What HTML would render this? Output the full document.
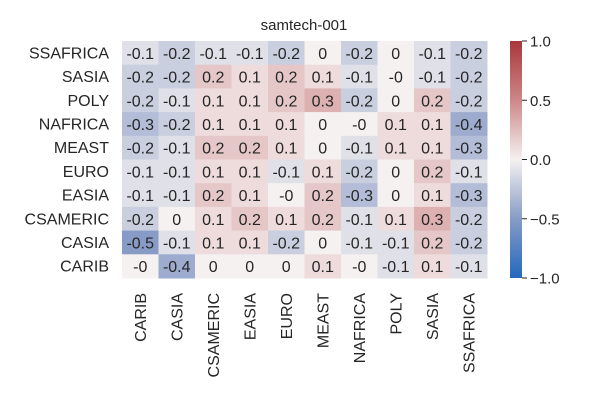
<!DOCTYPE html>
<html><head><meta charset="utf-8"><style>
body{margin:0;background:#fff;}
svg{display:block;font-family:"Liberation Sans","DejaVu Sans",sans-serif;}
</style></head><body>
<svg id="chart" width="600" height="400">
<defs><linearGradient id="cb" x1="0" y1="1" x2="0" y2="0">
<stop offset="0" stop-color="rgb(35,105,189)"/><stop offset="0.25" stop-color="rgb(135,155,198)"/>
<stop offset="0.5" stop-color="rgb(245,241,240)"/><stop offset="0.75" stop-color="rgb(205,135,137)"/>
<stop offset="1" stop-color="rgb(169,55,59)"/></linearGradient></defs>
<text x="304" y="30" font-size="15" text-anchor="middle" fill="#262626">samtech-001</text>
<g id="cells"></g>
<rect x="510" y="41" width="12" height="237" fill="url(#cb)"/>
<g id="cbticks"></g>
</svg>
<script>
const rowLabels=["SSAFRICA","SASIA","POLY","NAFRICA","MEAST","EURO","EASIA","CSAMERIC","CASIA","CARIB"];
const colLabels=["CARIB","CASIA","CSAMERIC","EASIA","EURO","MEAST","NAFRICA","POLY","SASIA","SSAFRICA"];
const values=[
[-0.1,-0.2,-0.1,-0.1,-0.2,0,-0.2,0,-0.1,-0.2],
[-0.2,-0.2,0.2,0.1,0.2,0.1,-0.1,-0,-0.1,-0.2],
[-0.2,-0.1,0.1,0.1,0.2,0.3,-0.2,0,0.2,-0.2],
[-0.3,-0.2,0.1,0.1,0.1,0,-0,0.1,0.1,-0.4],
[-0.2,-0.1,0.2,0.2,0.1,0,-0.1,0.1,0.1,-0.3],
[-0.1,-0.1,0.1,0.1,-0.1,0.1,-0.2,0,0.2,-0.1],
[-0.1,-0.1,0.2,0.1,-0,0.2,-0.3,0,0.1,-0.3],
[-0.2,0,0.1,0.2,0.1,0.2,-0.1,0.1,0.3,-0.2],
[-0.5,-0.1,0.1,0.1,-0.2,0,-0.1,-0.1,0.2,-0.2],
[-0,-0.4,0,0,0,0.1,-0,-0.1,0.1,-0.1]];
const colorTicks=[1.0,0.5,0.0,-0.5,-1.0];
const X0=122,X1=487,Y0=41,Y1=278;
const cw=(X1-X0)/colLabels.length, ch=(Y1-Y0)/rowLabels.length;
const xPos=i=>X0+i*cw, yPos=j=>Y0+j*ch;
const cbY=v=>Y0+(1-v)/2*(Y1-Y0);
const stops=[[-1,[35,105,189]],[-0.5,[135,155,198]],[0,[245,241,240]],[0.5,[205,135,137]],[1,[169,55,59]]];
function color(v){for(let k=0;k<stops.length-1;k++){const[a,ca]=stops[k],[b,cb]=stops[k+1];if(v<=b){const t=(v-a)/(b-a);return 'rgb('+ca.map((c,i)=>Math.round(c+(cb[i]-c)*t)).join(',')+')';}}return 'rgb(169,55,59)';}
const NS='http://www.w3.org/2000/svg';
const g=document.getElementById('cells');
function fmt(v){return Object.is(v,-0)?'-0':String(v);}
values.forEach((row,j)=>{row.forEach((v,i)=>{
const r=document.createElementNS(NS,'rect');
r.setAttribute('x',xPos(i));r.setAttribute('y',yPos(j));r.setAttribute('width',cw+0.5);r.setAttribute('height',ch+0.5);r.setAttribute('fill',color(v));


g.appendChild(r);
const t=document.createElementNS(NS,'text');
t.setAttribute('x',xPos(i)+cw/2);t.setAttribute('y',yPos(j)+ch/2+6);t.setAttribute('text-anchor','middle');t.setAttribute('font-size','16');t.setAttribute('fill','#262626');
t.textContent=fmt(v);


g.appendChild(t);});
const l=document.createElementNS(NS,'text');
l.setAttribute('x',109);l.setAttribute('y',yPos(j)+ch/2+5.5);l.setAttribute('text-anchor','end');l.setAttribute('font-size','16');l.setAttribute('fill','#262626');
l.textContent=rowLabels[j];


g.appendChild(l);});
colLabels.forEach((c,i)=>{
const t=document.createElementNS(NS,'text');
const x=xPos(i)+cw/2+5.5,y=293;
t.setAttribute('x',x);t.setAttribute('y',y);t.setAttribute('text-anchor','end');t.setAttribute('font-size','16');t.setAttribute('fill','#262626');
t.setAttribute('transform','rotate(-90 '+x+' '+y+')');
t.textContent=c;


g.appendChild(t);});
const cg=document.getElementById('cbticks');
colorTicks.forEach(v=>{
const y=cbY(v);
const ln=document.createElementNS(NS,'line');
ln.setAttribute('x1',522);ln.setAttribute('x2',527);ln.setAttribute('y1',y);ln.setAttribute('y2',y);ln.setAttribute('stroke','#262626');


cg.appendChild(ln);
const t=document.createElementNS(NS,'text');
t.setAttribute('x',530);t.setAttribute('y',y+5.5);t.setAttribute('font-size','15');t.setAttribute('fill','#262626');
t.textContent=(v<0?'\u2212':'')+Math.abs(v).toFixed(1);


cg.appendChild(t);});
</script>
</body></html>
